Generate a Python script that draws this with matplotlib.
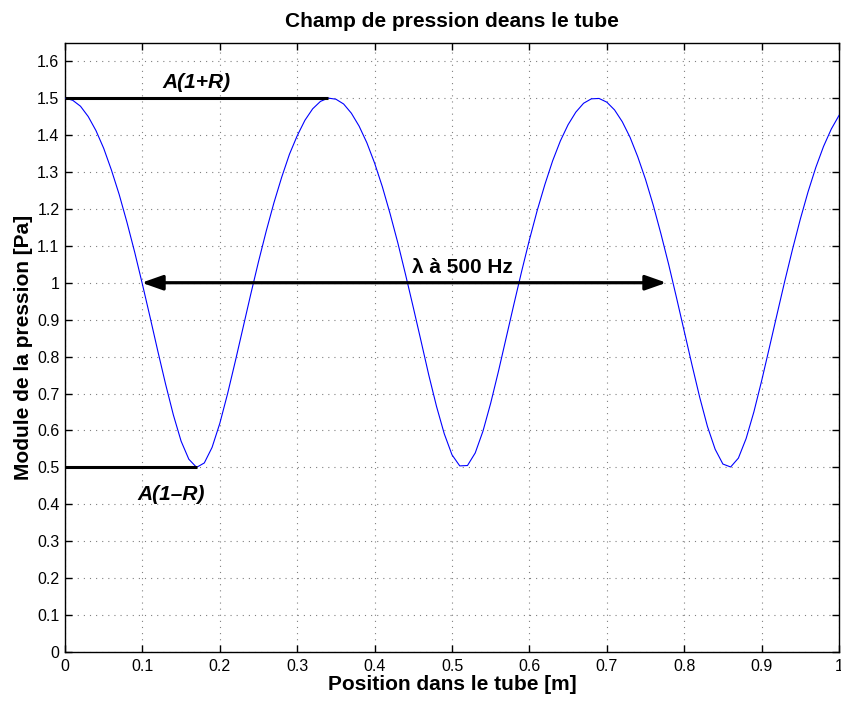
import matplotlib
matplotlib.use("Agg")
import matplotlib.pyplot as plt
import numpy as np

plt.rcParams['font.family'] = ['Liberation Sans', 'DejaVu Sans']

position = [round(0.01 * i, 2) for i in range(101)]
pressure = [1.500, 1.494, 1.478, 1.450, 1.412, 1.364, 1.305, 1.239, 1.164, 1.083,
            0.996, 0.906, 0.814, 0.725, 0.642, 0.571, 0.522, 0.500, 0.512, 0.554,
            0.619, 0.699, 0.787, 0.878, 0.969, 1.057, 1.140, 1.217, 1.286, 1.348,
            1.398, 1.440, 1.471, 1.491, 1.500, 1.497, 1.484, 1.459, 1.424, 1.379,
            1.324, 1.260, 1.187, 1.108, 1.022, 0.933, 0.842, 0.750, 0.665, 0.591,
            0.534, 0.504, 0.505, 0.539, 0.598, 0.674, 0.760, 0.851, 0.942, 1.031,
            1.116, 1.195, 1.266, 1.330, 1.384, 1.428, 1.462, 1.486, 1.498, 1.499,
            1.489, 1.468, 1.436, 1.394, 1.341, 1.280, 1.210, 1.132, 1.049, 0.960,
            0.869, 0.778, 0.690, 0.611, 0.549, 0.509, 0.501, 0.525, 0.578, 0.650,
            0.734, 0.824, 0.915, 1.005, 1.091, 1.172, 1.246, 1.312, 1.369, 1.416,
            1.453]

max_level = 1.5      # A(1+R)
min_level = 0.5      # A(1-R)
max_end = 0.340
min_end = 0.170
lambda_start = 0.099
lambda_end = 0.777
lambda_level = 1.0

xticks = [0, 0.1, 0.2, 0.3, 0.4, 0.5, 0.6, 0.7, 0.8, 0.9, 1]
xticklabels = ['0', '0.1', '0.2', '0.3', '0.4', '0.5', '0.6', '0.7', '0.8', '0.9', '1']
yticks = [0, 0.1, 0.2, 0.3, 0.4, 0.5, 0.6, 0.7, 0.8, 0.9, 1, 1.1, 1.2, 1.3, 1.4, 1.5, 1.6]
yticklabels = ['0', '0.1', '0.2', '0.3', '0.4', '0.5', '0.6', '0.7', '0.8', '0.9', '1',
               '1.1', '1.2', '1.3', '1.4', '1.5', '1.6']

fig = plt.figure(figsize=(8.41, 7.02), dpi=100)
ax = fig.add_axes([65 / 841, 50 / 702, 774 / 841, 609.3 / 702])

ax.plot(position, pressure, color='#0000ff', lw=0.8, zorder=3)
ax.plot([0, max_end], [max_level, max_level], color='black', lw=2.2, zorder=4, solid_capstyle='butt')
ax.plot([0, min_end], [min_level, min_level], color='black', lw=2.2, zorder=4, solid_capstyle='butt')

ax.annotate('', xy=(lambda_end, lambda_level), xytext=(lambda_start, lambda_level),
            arrowprops=dict(arrowstyle='<|-|>,head_length=0.85,head_width=0.3',
                            mutation_scale=15, color='black', lw=2.3,
                            shrinkA=0, shrinkB=0), zorder=4)

ax.text(0.126, 1.527, 'A(1+R)', fontsize=15, fontweight='bold', fontstyle='italic',
        ha='left', va='baseline')
ax.text(0.094, 0.411, 'A(1–R)', fontsize=15, fontweight='bold', fontstyle='italic',
        ha='left', va='baseline')
ax.text(0.448, 1.025, 'λ à 500 Hz', fontsize=15, fontweight='bold',
        ha='left', va='baseline')

ax.set_xlim(0, 1)
ax.set_ylim(0, 1.65)
ax.set_xticks(xticks)
ax.set_xticklabels(xticklabels)
ax.set_yticks(yticks)
ax.set_yticklabels(yticklabels)
ax.tick_params(direction='in', length=5, width=1, top=True, right=True, labelsize=11.5)
ax.tick_params(axis='x', pad=5)
ax.tick_params(axis='y', pad=4)
ax.grid(True, linestyle=(0, (1, 4.5)), color='0.5', lw=0.8)
for s in ax.spines.values():
    s.set_linewidth(1.0)

ax.set_title('Champ de pression deans le tube', fontsize=15, fontweight='bold', pad=11)
ax.set_xlabel('Position dans le tube [m]', fontsize=15, fontweight='bold', labelpad=1)
ax.set_ylabel('Module de la pression [Pa]', fontsize=15, fontweight='bold', labelpad=3)

fig.savefig('out.png', dpi=100)
